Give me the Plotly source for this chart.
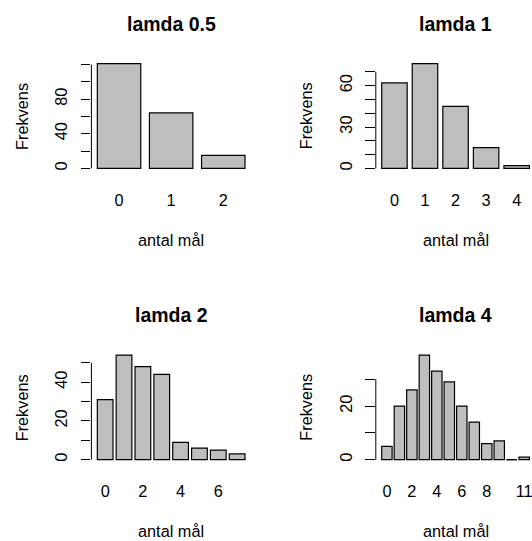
import plotly.graph_objects as go

W, H = 532, 541
FONT = "Liberation Sans, Arial, Helvetica, sans-serif"

# ---------------- data ----------------
titles = ["lamda 0.5", "lamda 1", "lamda 2", "lamda 4"]
x_title = "antal mål"
y_title = "Frekvens"

counts_05 = [121, 64, 15]
counts_1 = [62, 76, 45, 15, 2]
counts_2 = [31, 54, 48, 44, 9, 6, 5, 3]
counts_4 = [5, 20, 26, 39, 33, 29, 20, 14, 6, 7, 0, 1]

xlabels_05 = ["0", "1", "2"]
xlabels_1 = ["0", "1", "2", "3", "4"]
xlabels_2 = ["0", "", "2", "", "4", "", "6", ""]
xlabels_4 = ["0", "", "2", "", "4", "", "6", "", "8", "", "", "11"]

yticks_05 = [0, 20, 40, 60, 80, 100, 120]
ytext_05 = ["0", "", "40", "", "80", "", ""]
yticks_1 = [0, 10, 20, 30, 40, 50, 60, 70]
ytext_1 = ["0", "", "", "30", "", "", "60", ""]
yticks_2 = [0, 10, 20, 30, 40, 50]
ytext_2 = ["0", "", "20", "", "40", ""]
yticks_4 = [0, 10, 20, 30]
ytext_4 = ["0", "", "20", ""]

panels = [
    (titles[0], counts_05, xlabels_05, yticks_05, ytext_05),
    (titles[1], counts_1, xlabels_1, yticks_1, ytext_1),
    (titles[2], counts_2, xlabels_2, yticks_2, ytext_2),
    (titles[3], counts_4, xlabels_4, yticks_4, ytext_4),
]

# ---------------- layout geometry (pixels) ----------------
col_x0 = [91.4, 375.8]
row_y0 = [59.5, 350.9]
PW, PH = 159.5, 113.0
BARW = 1 / 1.2

fig = go.Figure()
layout = dict(
    width=W, height=H,
    margin=dict(l=0, r=0, t=0, b=0),
    paper_bgcolor="white", plot_bgcolor="white",
    showlegend=False,
    font=dict(family=FONT, color="black", size=16.3),
)
shapes = []
annotations = []

for i, (title, counts, xlabels, yt, ytx) in enumerate(panels):
    r, c = divmod(i, 2)
    ax = "" if i == 0 else str(i + 1)
    n = len(counts)
    xs = list(range(n))
    fig.add_trace(go.Bar(
        x=xs, y=counts, width=BARW,
        marker=dict(color="#BEBEBE", line=dict(color="black", width=1.2)),
        xaxis="x" + ax, yaxis="y" + ax, hoverinfo="skip",
    ))
    # zero-height bars are drawn by R as a flat outline
    zx, zy = [], []
    for k, v in zip(xs, counts):
        if v == 0:
            zx += [k - BARW / 2, k + BARW / 2, None]
            zy += [v, v, None]
    if zx:
        fig.add_trace(go.Scatter(
            x=zx, y=zy, mode="lines", line=dict(color="black", width=1.2),
            xaxis="x" + ax, yaxis="y" + ax, hoverinfo="skip", cliponaxis=False,
        ))
    # R-style ranges (4% extension)
    left = -BARW / 2
    right = n - 1 + BARW / 2
    ext = 0.04 * (right - left)
    lo, hi = left - ext, right + ext
    x0 = col_x0[c]
    x1 = x0 + PW
    if x1 > W:
        hi = lo + (hi - lo) * (W - x0) / PW
        x1 = W
    ymax = max(counts)
    ylo, yhi = -0.04 * ymax, 1.04 * ymax
    ytop = row_y0[r]
    ybot = ytop + PH
    layout["xaxis" + ax] = dict(
        domain=[x0 / W, x1 / W], range=[lo, hi], anchor="y" + ax,
        tickmode="array", tickvals=xs, ticktext=xlabels,
        showgrid=False, zeroline=False, showline=False, ticks="",
        ticklabelstandoff=16, ticklabeloverflow="allow",
        tickfont=dict(size=16.3, family=FONT),
        fixedrange=True,
    )
    layout["yaxis" + ax] = dict(
        domain=[1 - ybot / H, 1 - ytop / H], range=[ylo, yhi], anchor="x" + ax,
        tickmode="array", tickvals=yt, ticktext=ytx, tickangle=-90,
        showgrid=False, zeroline=False, showline=False,
        ticks="outside", ticklen=9.7, tickwidth=1, tickcolor="black",
        ticklabelstandoff=7, tickfont=dict(size=16.3, family=FONT),
        fixedrange=True,
    )
    shapes.append(dict(
        type="line", xref="x" + ax + " domain", yref="y" + ax,
        x0=0, x1=0, y0=yt[0], y1=yt[-1],
        line=dict(color="black", width=1),
    ))
    cx = (col_x0[c] + PW / 2) / W
    annotations.append(dict(
        text="<b>" + title + "</b>", xref="paper", yref="paper",
        x=cx, y=1 - (row_y0[r] - 35.5) / H, xanchor="center", yanchor="middle",
        showarrow=False, font=dict(size=19.5, family=FONT, color="black"),
    ))
    annotations.append(dict(
        text=x_title, xref="paper", yref="paper",
        x=cx, y=1 - (ybot + 67.5) / H, xanchor="center", yanchor="middle",
        showarrow=False, font=dict(size=16.3, family=FONT, color="black"),
    ))
    annotations.append(dict(
        text=y_title, xref="paper", yref="paper", textangle=-90,
        x=(col_x0[c] - 69.5) / W, y=1 - (ytop + PH / 2) / H,
        xanchor="center", yanchor="middle",
        showarrow=False, font=dict(size=16.3, family=FONT, color="black"),
    ))

layout["shapes"] = shapes
layout["annotations"] = annotations
fig.update_layout(**layout)
fig.write_html(
    "out.html",
    config={"displayModeBar": False, "staticPlot": True},
    post_script="document.body.style.margin='0';document.body.style.overflow='hidden';",
)
